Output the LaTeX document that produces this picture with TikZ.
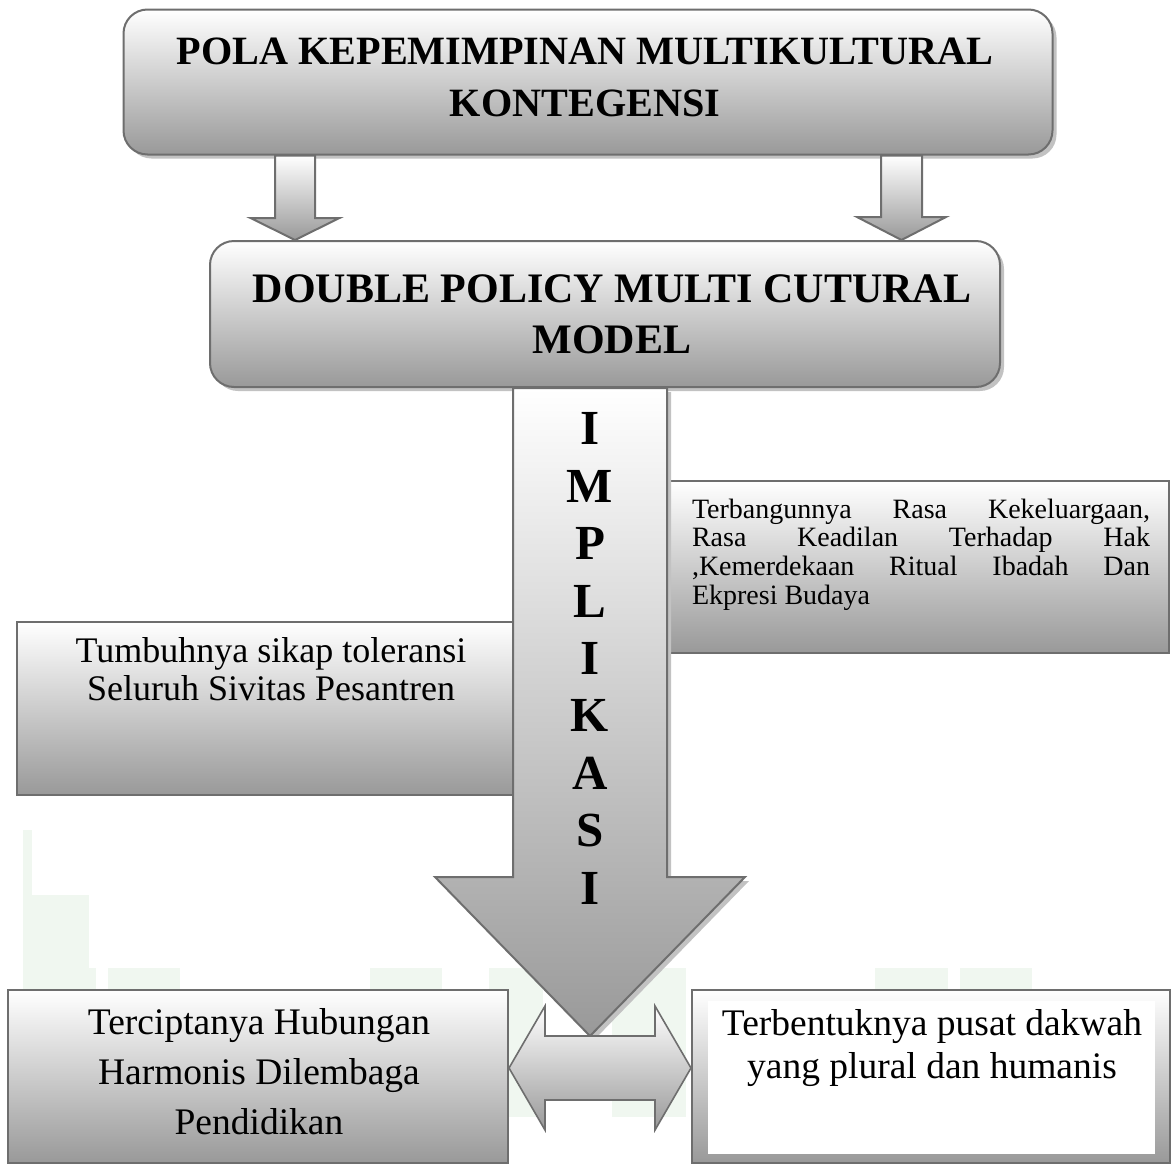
\documentclass[tikz,border=0pt]{standalone}
\usepackage{fontspec}
\setmainfont{Liberation Serif}
\usetikzlibrary{calc,shadows}

\definecolor{edge}{HTML}{6E6E6E}
\definecolor{shade}{HTML}{999999}
\definecolor{shadowgray}{HTML}{C2C2C2}
\definecolor{wm}{RGB}{240,247,240}

\tikzset{
  txt/.style 2 args={font=\fontsize{#1}{#2}\selectfont, inner sep=0pt, align=center},
  panel/.style={draw=edge, line width=2pt, top color=white, bottom color=shade, inner sep=0pt},
  roundpanel/.style={panel, rounded corners=24pt,
    general shadow={fill=shadowgray, shadow xshift=4pt, shadow yshift=-4pt}},
  blockarrow/.style={draw=edge, line width=2pt, top color=white, bottom color=shade, line join=miter},
  bigarrow/.style={blockarrow, general shadow={fill=shadowgray, shadow xshift=4pt, shadow yshift=-4pt}},
  wmark/.style={fill=wm, draw=none},
}

% justified line of fixed width
\newcommand\jline[1]{\hbox to 458pt{#1}}

% downward block arrow: style, start, tip, shaft half width, head half width, head length
\newcommand\blockdown[6]{%
  \path[#1] ($(#2)+(-#4,0)$) -- ($(#3)+(-#4,-#6)$) -- ($(#3)+(-#5,-#6)$) -- (#3)
    -- ($(#3)+(#5,-#6)$) -- ($(#3)+(#4,-#6)$) -- ($(#2)+(#4,0)$) -- cycle;}

% horizontal double block arrow: style, left tip, right tip, shaft half height, head half height, head length
\newcommand\blockboth[6]{%
  \path[#1] (#2) -- ($(#2)+(#6,-#5)$) -- ($(#2)+(#6,-#4)$) -- ($(#3)+(-#6,-#4)$)
    -- ($(#3)+(-#6,-#5)$) -- (#3) -- ($(#3)+(-#6,#5)$) -- ($(#3)+(-#6,#4)$)
    -- ($(#2)+(#6,#4)$) -- ($(#2)+(#6,#5)$) -- cycle;}

\begin{document}
\begin{tikzpicture}[x=1pt, y=-1pt]
\useasboundingbox[fill=white] (0,0) rectangle (1171,1165);

% faint watermark bars in the background
\fill[wmark] (23,830) rectangle (32,968);
\fill[wmark] (23,895) rectangle (89,968);
\fill[wmark] (23,968) rectangle (96,990);
\fill[wmark] (108,968) rectangle (180,990);
\fill[wmark] (370,968) rectangle (442,990);
\fill[wmark] (489,968) rectangle (543,1117);
\fill[wmark] (612,968) rectangle (686,1117);
\fill[wmark] (875,968) rectangle (948,990);
\fill[wmark] (960,968) rectangle (1032,990);

% column guides
\coordinate (colL) at (295,0);
\coordinate (colR) at (901.5,0);
\coordinate (colM) at (590,0);
\coordinate (rowD) at (0,1068);

% side panels
\node[panel, minimum width=499pt, minimum height=172pt] (terb) at (919.5,567) {};
\node[txt={28}{28.7}, align=left] (terbT) at (921,554.5)
  {\jline{Terbangunnya\hfill Rasa\hfill Kekeluargaan,}\\
   \jline{Rasa\hfill Keadilan\hfill Terhadap\hfill Hak}\\
   \jline{,Kemerdekaan\hfill Ritual\hfill Ibadah\hfill Dan}\\
   \jline{Ekpresi Budaya\hfill}};

\node[panel, minimum width=497pt, minimum height=173pt] (tum) at (265.5,708.5) {};
\node[txt={36}{38}] (tumT) at (271,669) {Tumbuhnya sikap toleransi\\Seluruh Sivitas Pesantren};

% main rounded panels
\node[roundpanel, minimum width=929pt, minimum height=145pt] (pola) at (588,82) {};
\node[txt={40.2}{52}, font=\fontsize{40.2}{52}\selectfont\bfseries] (polaT) at (585,77.5)
  {POLA KEPEMIMPINAN MULTIKULTURAL\\KONTEGENSI};

\node[roundpanel, minimum width=790pt, minimum height=146pt] (dpm) at (605,314) {};
\node[txt={42}{51}, font=\fontsize{42}{51}\selectfont\bfseries] (dpmT) at (612,314)
  {DOUBLE POLICY MULTI CUTURAL\\MODEL};

% arrows from the top panel to the policy panel
\blockdown{blockarrow}{colL |- pola.south}{colL |- dpm.north}{20}{44.5}{22}
\blockdown{blockarrow}{colR |- pola.south}{colR |- dpm.north}{20.5}{44.5}{23}

% large implication arrow
\coordinate (bigtip) at ($(colM |- rowD)+(0,-32)$);
\blockdown{bigarrow}{colM |- dpm.south}{bigtip}{77}{155}{159}
\node[txt={49}{57.4}, font=\fontsize{49}{57.4}\selectfont\bfseries] (implT) at (590,658.4)
  {I\\M\\P\\L\\I\\K\\A\\S\\I};

% outcome panels
\node[panel, minimum width=500pt, minimum height=173pt] (hub) at (258,1076.5) {};
\node[txt={37.5}{50}] (hubT) at (259,1072) {Terciptanya Hubungan\\Harmonis Dilembaga\\Pendidikan};

\node[panel, minimum width=478pt, minimum height=173pt] (dak) at (931,1076.5) {};
\fill[white] ($(dak.north west)+(17,12)$) rectangle ($(dak.south east)+(-16,-10)$);
\node[txt={37.5}{43.5}] (dakT) at (932,1048) {Terbentuknya pusat dakwah\\yang plural dan humanis};

% two-way arrow between the outcome panels
\blockboth{blockarrow, line width=1.6pt}{hub.east |- rowD}{dak.west |- rowD}{32}{62}{36}
\end{tikzpicture}
\end{document}
